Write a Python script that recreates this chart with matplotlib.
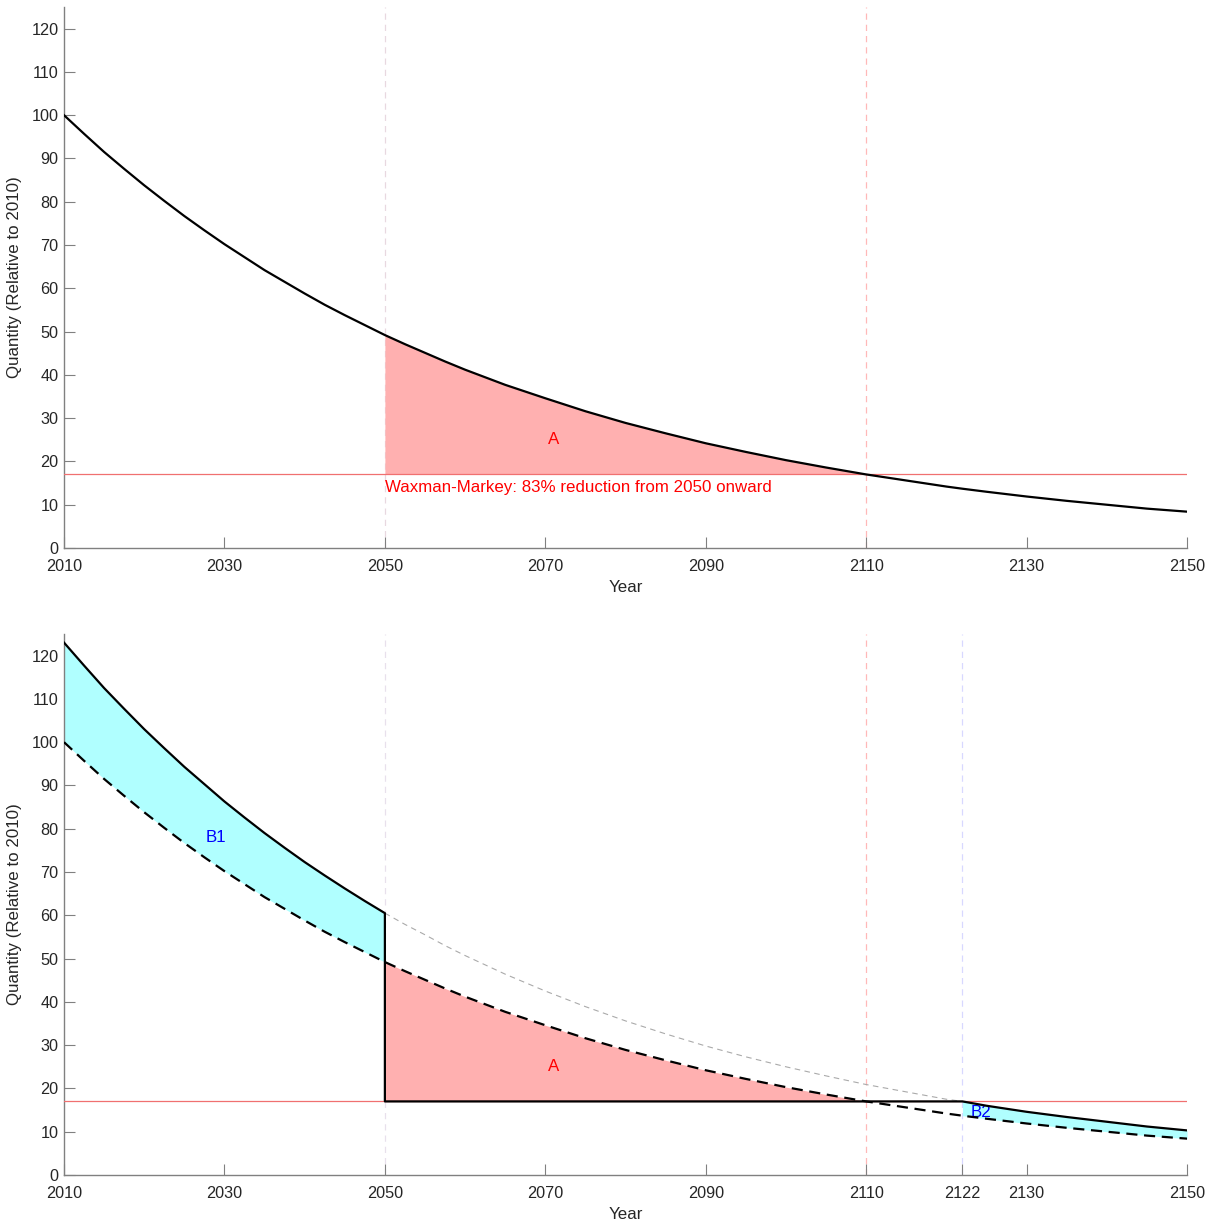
import matplotlib
matplotlib.use("Agg")
import matplotlib.pyplot as plt
import numpy as np

plt.rcParams['font.family'] = ['Liberation Sans', 'DejaVu Sans']

years = [2010, 2012.5, 2015, 2017.5, 2020, 2022.5, 2025, 2027.5, 2030, 2032.5, 2035,
         2037.5, 2040, 2042.5, 2045, 2047.5, 2050, 2052.5, 2055, 2057.5, 2060, 2065,
         2070, 2075, 2080, 2085, 2090, 2095, 2100, 2105, 2110, 2115, 2120, 2122,
         2125, 2130, 2135, 2140, 2145, 2150]
baseline = [100.0, 95.7, 91.5, 87.6, 83.8, 80.2, 76.7, 73.4, 70.2, 67.2, 64.2,
            61.5, 58.8, 56.2, 53.8, 51.5, 49.2, 47.1, 45.1, 43.1, 41.2, 37.7,
            34.6, 31.6, 28.9, 26.5, 24.2, 22.2, 20.3, 18.6, 17.0, 15.6, 14.2, 13.7,
            13.0, 11.9, 10.9, 10.0, 9.1, 8.4]
shifted = [123.0, 117.7, 112.5, 107.7, 103.0, 98.6, 94.3, 90.3, 86.3, 82.6, 79.0,
           75.6, 72.3, 69.2, 66.2, 63.3, 60.5, 57.9, 55.5, 53.0, 50.7, 46.4,
           42.5, 38.9, 35.6, 32.6, 29.8, 27.3, 25.0, 22.9, 20.9, 19.2, 17.5, 17.0,
           16.0, 14.6, 13.4, 12.3, 11.2, 10.3]
cap_level = 17.0
cap_year = 2050
cross_year = 2110
resume_year = 2122
xticks_top = [2010, 2030, 2050, 2070, 2090, 2110, 2130, 2150]
xticks_bottom = [2010, 2030, 2050, 2070, 2090, 2110, 2122, 2130, 2150]
yticks = list(range(0, 121, 10))

yr = np.array(years, dtype=float)
base = np.array(baseline)
shf = np.array(shifted)

PINK = '#ffb0b0'
CYAN = '#b0ffff'
LINE_RED = '#f07070'
TXT = '#262626'
AX = '#808080'

fig = plt.figure(figsize=(12.17, 12.26), dpi=100)
ax1 = fig.add_axes([0.0526, 0.553, 0.9228, 0.4413])
ax2 = fig.add_axes([0.0526, 0.0416, 0.9228, 0.4413])


def style(ax, xt):
    ax.set_xlim(2010, 2150)
    ax.set_ylim(0, 125)
    ax.set_xticks(xt)
    ax.set_yticks(yticks)
    for s in ['top', 'right']:
        ax.spines[s].set_visible(False)
    for s in ['left', 'bottom']:
        ax.spines[s].set_color(AX)
        ax.spines[s].set_linewidth(1.0)
    ax.tick_params(direction='in', length=8, width=0.8, color=AX,
                   labelcolor=TXT, labelsize=11.7)
    ax.tick_params(axis='x', pad=8)
    ax.tick_params(axis='y', pad=4)
    ax.set_xlabel('Year', fontsize=12.2, color=TXT, labelpad=4)
    ax.set_ylabel('Quantity (Relative to 2010)', fontsize=12.2, color=TXT, labelpad=7)


# ---- Top panel ----
style(ax1, xticks_top)
ax1.axvline(cap_year, color='#e8d8e0', ls=(0, (5, 4)), lw=0.9, zorder=1)
ax1.axvline(cross_year, color='#ffb8b8', ls=(0, (5, 4)), lw=0.9, zorder=1)
mA = (yr >= cap_year) & (yr <= cross_year)
ax1.fill_between(yr[mA], cap_level, base[mA], color=PINK, lw=0, zorder=2)
ax1.axhline(cap_level, color=LINE_RED, lw=0.9, zorder=3)
ax1.plot(yr, base, color='black', lw=1.6, zorder=4)
ax1.text(2071, 25, 'A', color='red', fontsize=12.2, ha='center', va='center')
ax1.text(2050, 15.8, 'Waxman-Markey: 83% reduction from 2050 onward', color='red',
         fontsize=12.2, ha='left', va='top')

# ---- Bottom panel ----
style(ax2, xticks_bottom)
ax2.axvline(cap_year, color='#e8e0ec', ls=(0, (5, 4)), lw=0.9, zorder=1)
ax2.axvline(cross_year, color='#ffb8b8', ls=(0, (5, 4)), lw=0.9, zorder=1)
ax2.axvline(resume_year, color='#d8d8ff', ls=(0, (5, 4)), lw=0.9, zorder=1)

m1 = yr <= cap_year
m2 = yr >= resume_year
ax2.fill_between(yr[m1], base[m1], shf[m1], color=CYAN, lw=0, zorder=2)
ax2.fill_between(yr[m2], base[m2], shf[m2], color=CYAN, lw=0, zorder=2)
ax2.fill_between(yr[mA], cap_level, base[mA], color=PINK, lw=0, zorder=2)
ax2.axhline(cap_level, color=LINE_RED, lw=0.9, zorder=3)

mg = (yr >= cap_year) & (yr <= resume_year)
ax2.plot(yr[mg], shf[mg], color='#aaaaaa', lw=0.8, ls=(0, (5, 4)), zorder=3)
ax2.plot(yr, base, color='black', lw=1.6, ls=(0, (5, 3)), zorder=4)

px = np.concatenate([yr[m1], [cap_year, resume_year], yr[m2]])
py = np.concatenate([shf[m1], [cap_level, cap_level], shf[m2]])
ax2.plot(px, py, color='black', lw=1.6, zorder=5)

ax2.text(2029, 78, 'B1', color='blue', fontsize=12.2, ha='center', va='center')
ax2.text(2071, 25, 'A', color='red', fontsize=12.2, ha='center', va='center')
ax2.text(2124.3, 14.5, 'B2', color='blue', fontsize=12.2, ha='center', va='center')

fig.savefig('out.png', dpi=100)
